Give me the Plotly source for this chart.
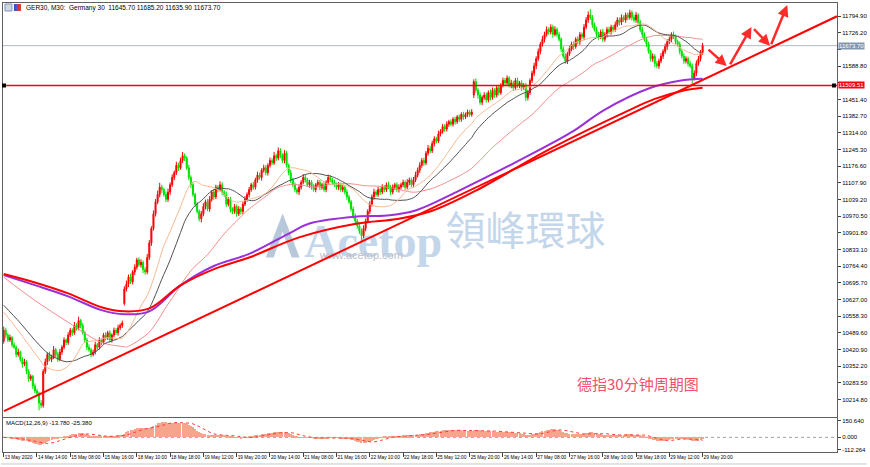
import numpy as np
import plotly.graph_objects as go

# ------------------------------------------------------------------ data
closes = [
    10500,10480,10460,10470,10440,10430,10400,10410,10380,10360,10370,10330,10300,10310,10270,10250,10240,10200,10190,10330,
    10370,10400,10380,10390,10420,10400,10380,10410,10430,10460,10450,10480,10500,10490,10520,10510,10540,10520,10490,10460,
    10430,10420,10400,10410,10440,10430,10460,10450,10480,10470,10490,10460,10480,10500,10490,10510,10520,10530,10670,10690,
    10720,10700,10740,10760,10790,10770,10780,10750,10740,10800,10860,10920,10980,11030,11060,11090,11080,11060,11040,11070,
    11100,11130,11150,11180,11170,11200,11220,11210,11170,11130,11100,11060,11020,10990,10960,10980,11010,11030,11000,11040,
    11070,11050,11090,11080,11100,11070,11060,11020,11040,11000,10990,11010,10980,11000,10990,11020,11040,11060,11080,11100,
    11090,11120,11140,11130,11160,11170,11150,11180,11200,11190,11220,11210,11240,11220,11200,11230,11180,11150,11120,11100,
    11080,11070,11090,11110,11130,11120,11100,11110,11090,11080,11100,11110,11090,11100,11080,11110,11130,11120,11110,11100,
    11090,11100,11080,11090,11070,11050,11030,11000,10970,10950,10930,10910,10890,10920,10950,10990,11020,11050,11070,11060,
    11080,11070,11090,11080,11100,11090,11070,11090,11100,11080,11090,11100,11110,11090,11110,11120,11100,11120,11140,11160,
    11180,11200,11190,11230,11250,11240,11270,11290,11280,11310,11320,11340,11330,11350,11360,11350,11370,11360,11380,11370,
    11390,11380,11390,11400,11390,11400,11525,11490,11470,11440,11460,11470,11450,11480,11460,11490,11470,11500,11480,11510,
    11530,11520,11540,11510,11520,11500,11530,11510,11520,11500,11510,11460,11480,11530,11560,11590,11620,11650,11680,11700,
    11720,11740,11730,11750,11720,11740,11720,11700,11660,11630,11610,11640,11660,11680,11670,11700,11690,11720,11710,11750,
    11780,11800,11790,11760,11740,11720,11710,11730,11700,11720,11740,11730,11750,11740,11760,11780,11770,11790,11780,11800,
    11790,11810,11790,11780,11800,11770,11740,11720,11700,11680,11650,11620,11630,11600,11590,11610,11630,11650,11670,11690,
    11700,11720,11710,11690,11680,11650,11630,11610,11620,11600,11590,11540,11560,11600,11620,11645.7,11673.7,
]
open_overrides = {0: 10455, 58: 10610, 226: 11470}

wick_up = [
    15,10,8,12,6,10,8,14,6,9,12,7,10,8,6,11,9,7,12,10,
    14,8,12,9,15,7,10,13,8,11,6,12,10,8,14,9,16,7,10,8,
    9,12,7,10,13,8,11,6,9,12,8,10,7,11,9,13,8,10,12,15,
    10,14,8,12,9,11,13,7,10,15,12,9,14,11,16,18,10,8,12,14,
    10,13,9,15,11,12,15,10,8,12,9,11,7,10,8,12,14,9,11,13,
    8,12,10,9,14,11,8,12,9,10,7,11,9,12,8,10,13,9,11,8,
    12,9,14,10,8,13,11,9,12,10,15,8,14,11,9,13,10,8,12,9,
    10,8,12,9,14,11,8,10,9,12,7,11,10,8,13,9,12,10,8,11,
    9,12,8,10,7,11,9,8,10,12,9,8,10,13,11,9,12,10,14,8,
    11,9,12,8,10,13,9,11,8,10,12,9,11,8,13,10,9,12,14,11,
    13,10,12,9,14,11,12,10,8,13,9,11,10,12,8,10,9,11,8,10,
    9,11,8,10,9,12,10,14,9,11,8,12,10,9,13,11,8,12,10,9,
    12,10,11,8,13,9,10,12,8,11,9,10,12,9,11,13,10,12,9,14,
    11,13,9,12,10,14,9,11,8,10,12,9,13,10,11,9,12,10,8,13,
    12,15,25,10,9,12,11,10,13,9,11,12,10,9,13,11,10,12,9,11,
    10,12,9,11,13,8,10,12,9,11,10,8,12,9,11,10,13,9,12,10,
    11,9,12,10,8,11,9,12,10,9,11,10,12,13,11,10,11.5,
]
wick_dn = [
    10,12,9,8,11,7,12,9,10,14,8,11,13,9,12,10,8,30,12,9,
    10,13,8,11,9,12,10,8,11,9,12,10,8,13,9,11,10,12,8,10,
    12,9,11,8,10,13,9,11,8,12,10,9,11,8,10,12,9,11,8,10,
    12,9,11,13,10,8,12,14,11,9,10,12,9,11,10,12,13,9,11,10,
    12,9,11,10,13,8,10,12,9,11,14,10,12,9,11,15,10,12,9,11,
    10,12,9,11,8,13,10,12,9,14,11,10,12,9,13,11,8,10,12,9,
    11,10,12,9,13,10,11,12,9,10,8,12,9,11,10,12,9,11,13,10,
    11,9,12,10,8,11,9,12,10,8,11,9,12,10,9,11,8,10,12,9,
    10,12,9,11,10,12,9,11,10,12,11,13,20,10,12,9,11,10,12,9,
    10,12,9,11,10,8,12,9,11,10,12,9,10,11,9,12,10,11,9,10,
    11,10,12,9,10,11,9,12,10,8,11,9,12,10,11,9,10,12,9,11,
    10,12,9,11,10,9,12,11,15,10,12,9,11,10,12,9,11,10,12,9,
    8,13,10,9,12,14,9,10,11,13,8,15,12,9,10,11,13,9,12,10,
    13,9,11,10,14,8,12,10,13,9,11,12,8,10,14,9,11,13,10,12,
    9,12,10,13,8,11,14,9,12,10,13,8,11,12,9,10,13,11,9,12,
    11,9,13,10,12,9,11,14,10,12,9,11,13,15,10,12,9,11,10,13,
    10,12,9,11,10,12,9,11,10,12,9,24,10,12,9,11,9.8,
]

time_labels = ["13 May 2020", "14 May 14:00", "15 May 08:00", "15 May 16:00", "18 May 10:00",
               "18 May 18:00", "19 May 12:00", "19 May 20:00", "20 May 14:00", "21 May 08:00",
               "21 May 16:00", "22 May 10:00", "22 May 18:00", "25 May 12:00", "25 May 20:00",
               "26 May 14:00", "27 May 08:00", "27 May 16:00", "28 May 10:00", "28 May 18:00",
               "29 May 12:00", "29 May 20:00"]
label_step = 16

price_ticks = [11794.90, 11726.20, 11657.50, 11588.80, 11520.10, 11451.40, 11382.70, 11314.00,
               11245.30, 11176.60, 11107.90, 11039.20, 10970.50, 10901.80, 10833.10, 10764.40,
               10695.70, 10627.00, 10558.30, 10489.60, 10420.90, 10352.20, 10283.50, 10214.80]
macd_ticks = [150.64, 0.0, -112.264]
macd_tick_text = ["150.640", "0.000", "-112.264"]

# moving averages: value read off the picture where the window is not yet full
ma20_early_bars, ma20_early = [0, 6, 12, 18], [10575, 10510, 10440, 10370]
ma30_early_bars, ma30_early = [0, 8, 15, 22, 28], [10603, 10530, 10459, 10400, 10375]
ma60_early_bars, ma60_early = [0, 15, 31, 47, 58], [10719, 10623, 10533, 10450, 10432]
slow_purple_bars = [0, 15, 31, 47, 58, 70, 85, 101, 118, 138, 147, 170, 184, 198, 219, 252, 274, 288, 311, 325, 336]
slow_purple = [10728, 10686, 10640, 10583, 10566, 10578, 10685, 10765, 10815, 10903, 10940, 10969, 10973,
               10994, 11076, 11219, 11322, 11405, 11500, 11529, 11537]
slow_red_bars = [0, 15, 31, 47, 58, 70, 85, 102, 118, 142, 170, 190, 206, 227, 262, 300, 313, 326, 336]
slow_red = [10732, 10697, 10652, 10595, 10578, 10590, 10685, 10755, 10800, 10883, 10940, 10960, 10993,
            11076, 11245, 11405, 11454, 11487, 11500]

resistance = 11509.51
last_price = 11673.70
trend_start = (0.14, 10166.7)
trend_end = (400.6, 11794.9)
arrows = [((338.1, 11663), (347.6, 11590)),
          ((348.8, 11590), (359.5, 11751)),
          ((360.0, 11748), (368.4, 11673)),
          ((368.7, 11673), (376.7, 11841))]

title_text = "GER30, M30:  Germany 30  11645.70 11685.20 11635.90 11673.70"
macd_text = "MACD(12,26,9) -13.780 -25.380"
note_text = "德指30分钟周期图"

# ------------------------------------------------------------------ derived
n = len(closes)
assert len(wick_up) == n and len(wick_dn) == n, (n, len(wick_up), len(wick_dn))
bars = list(range(n))
c = np.array(closes, dtype=float)
opens = np.concatenate([[c[0]], c[:-1]])
for k, v in open_overrides.items():
    opens[k] = v
highs = np.maximum(opens, c) + np.array(wick_up)
lows = np.minimum(opens, c) - np.array(wick_dn)


def sma_line(period, early_bars, early_vals):
    xs = list(early_bars)
    ys = list(early_vals)
    for i in range(period - 1, n):
        xs.append(i)
        ys.append(c[i - period + 1:i + 1].mean())
    return xs, ys


def ema(a, p):
    k = 2.0 / (p + 1)
    out = np.empty_like(a)
    out[0] = a[0]
    for i in range(1, len(a)):
        out[i] = a[i] * k + out[i - 1] * (1 - k)
    return out


macd = ema(c, 12) - ema(c, 26)
signal = np.array([macd[max(0, i - 8):i + 1].mean() for i in range(n)])

# ------------------------------------------------------------------ geometry
W, H = 870, 467
ML, MR, MT, MB = 2, 30, 2, 15
PW, PH = W - ML - MR, H - MT - MB


def px_x(px):
    return (px - ML) / PW


def px_y(py):
    return (H - MB - py) / PH


ppx = 4.1148          # price per pixel
ref_price, ref_py = 11794.9, 15.3
main_bottom_py, macd_top_py = 416.7, 418.0
y_top = ref_price + (ref_py - MT) * ppx
y_bot = ref_price - (main_bottom_py - ref_py) * ppx
x_range = [-0.335, 400.6]

FONT = "Liberation Sans, Arial, sans-serif"

# price labels hidden under the two coloured price boxes
covered = {11657.50, 11520.10}
price_tick_text = ["" if v in covered else f"{v:.2f}" for v in price_ticks]

fig = go.Figure()

fig.add_trace(go.Candlestick(
    x=bars, open=opens, high=highs, low=lows, close=c,
    increasing=dict(line=dict(color="#ff0000", width=1), fillcolor="#ff0000"),
    decreasing=dict(line=dict(color="#00e000", width=1), fillcolor="#00e000"),
    whiskerwidth=0, hoverinfo="skip", xaxis="x", yaxis="y", showlegend=False))

for (period, eb, ev, col) in [(60, ma60_early_bars, ma60_early, "#f08c8c"),
                               (30, ma30_early_bars, ma30_early, "#505050"),
                               (20, ma20_early_bars, ma20_early, "#f7b88e")]:
    xs, ys = sma_line(period, eb, ev)
    fig.add_trace(go.Scatter(x=xs, y=ys, mode="lines", line=dict(color=col, width=1, shape="spline"),
                             hoverinfo="skip", showlegend=False, xaxis="x", yaxis="y"))

fig.add_trace(go.Scatter(x=slow_purple_bars, y=slow_purple, mode="lines",
                         line=dict(color="#9b30d9", width=2, shape="spline"),
                         hoverinfo="skip", showlegend=False, xaxis="x", yaxis="y"))
fig.add_trace(go.Scatter(x=slow_red_bars, y=slow_red, mode="lines",
                         line=dict(color="#ff0000", width=2, shape="spline"),
                         hoverinfo="skip", showlegend=False, xaxis="x", yaxis="y"))

# MACD panel
fig.add_trace(go.Bar(x=bars, y=macd, width=0.5, marker=dict(color="#f6a48c", line=dict(width=0)),
                     hoverinfo="skip", showlegend=False, xaxis="x2", yaxis="y2"))
fig.add_trace(go.Scatter(x=bars, y=signal, mode="lines", line=dict(color="#ff3b3b", width=1, dash="dot"),
                         hoverinfo="skip", showlegend=False, xaxis="x2", yaxis="y2"))

shapes = []
# watermark (below traces)
wm_col = "#c3d6ea"
shapes.append(dict(type="rect", xref="paper", yref="paper", layer="below",
                   x0=px_x(302), x1=px_x(446), y0=px_y(262), y1=px_y(210),
                   line=dict(width=0), fillcolor="rgba(0,0,0,0)",
                   label=dict(text="<b>Acetop</b>", textposition="middle center",
                              font=dict(family="Liberation Serif, serif", size=46, color=wm_col))))
shapes.append(dict(type="rect", xref="paper", yref="paper", layer="below",
                   x0=px_x(444), x1=px_x(610), y0=px_y(258), y1=px_y(210),
                   line=dict(width=0), fillcolor="rgba(0,0,0,0)",
                   label=dict(text="領峰環球", textposition="middle center",
                              font=dict(family="Noto Sans CJK TC", size=40, color=wm_col))))
shapes.append(dict(type="rect", xref="paper", yref="paper", layer="below",
                   x0=px_x(308), x1=px_x(416), y0=px_y(261), y1=px_y(246),
                   line=dict(width=0), fillcolor="rgba(0,0,0,0)",
                   label=dict(text="www.acetop.com", textposition="middle center",
                              font=dict(family=FONT, size=11, color="#b9c0c9"))))
logo_pts = [(266, 257), (283, 213), (300, 257), (292, 257), (283, 231), (274, 257)]
logo_path = "M " + " L ".join(f"{px_x(a):.5f},{px_y(b):.5f}" for a, b in logo_pts) + " Z"
shapes.append(dict(type="path", xref="paper", yref="paper", layer="below", path=logo_path,
                   fillcolor="#b7c8da", line=dict(width=0)))

# current price line & resistance & trend line
shapes.append(dict(type="line", xref="paper", yref="y", x0=0, x1=1, y0=last_price, y1=last_price,
                   layer="below", line=dict(color="#b0bac6", width=1)))
shapes.append(dict(type="line", xref="paper", yref="y", x0=0, x1=1, y0=resistance, y1=resistance,
                   line=dict(color="#ff0000", width=1.5)))
for xa, xb in [(1, 5), (835, 839)]:
    shapes.append(dict(type="rect", xref="paper", yref="y", x0=px_x(xa), x1=px_x(xb),
                       y0=resistance - 2 * ppx, y1=resistance + 2 * ppx,
                       fillcolor="#000000", line=dict(width=0)))
shapes.append(dict(type="line", xref="x", yref="y", x0=trend_start[0], y0=trend_start[1],
                   x1=trend_end[0], y1=trend_end[1], line=dict(color="#ff0000", width=2)))
# MACD zero level
shapes.append(dict(type="line", xref="paper", yref="y2", x0=0, x1=1, y0=0, y1=0, layer="below",
                   line=dict(color="#a0a0a0", width=1, dash="dot")))
# title icons
shapes.append(dict(type="rect", xref="paper", yref="paper", x0=px_x(4), x1=px_x(11), y0=px_y(10), y1=px_y(3),
                   fillcolor="#cfd6ea", line=dict(color="#7f93c0", width=1)))
shapes.append(dict(type="rect", xref="paper", yref="paper", x0=px_x(13), x1=px_x(16), y0=px_y(10), y1=px_y(3),
                   fillcolor="#3355cc", line=dict(width=0)))
shapes.append(dict(type="rect", xref="paper", yref="paper", x0=px_x(16), x1=px_x(20), y0=px_y(10), y1=px_y(3),
                   fillcolor="#e03030", line=dict(width=0)))
# bottom strip
shapes.append(dict(type="line", xref="paper", yref="paper", x0=px_x(0), x1=px_x(870), y0=px_y(464), y1=px_y(464),
                   line=dict(color="#c8c8c8", width=1)))

annotations = []
for (tail, head) in arrows:
    annotations.append(dict(x=head[0], y=head[1], ax=tail[0], ay=tail[1], xref="x", yref="y",
                            axref="x", ayref="y", text="", showarrow=True, arrowhead=2,
                            arrowsize=0.9, arrowwidth=2.5, arrowcolor="#ff2a2a", standoff=0))
annotations.append(dict(x=px_x(23), y=px_y(7), xref="paper", yref="paper", text=title_text,
                        showarrow=False, xanchor="left", yanchor="middle",
                        font=dict(family=FONT, size=6.5, color="#000000")))
annotations.append(dict(x=px_x(3), y=px_y(423), xref="paper", yref="paper", text=macd_text,
                        showarrow=False, xanchor="left", yanchor="middle",
                        font=dict(family=FONT, size=6, color="#000000")))
annotations.append(dict(x=px_x(577), y=px_y(383), xref="paper", yref="paper", text=note_text,
                        showarrow=False, xanchor="left", yanchor="middle",
                        font=dict(family="Noto Sans CJK SC", size=15, color="#f0506a")))
for val, bg in [(last_price, "#8496ae"), (resistance, "#ff0000")]:
    annotations.append(dict(x=px_x(841), y=val, xref="paper", yref="y", text=f"{val:.2f}",
                            showarrow=False, xanchor="left", yanchor="middle", bgcolor=bg,
                            borderpad=0, font=dict(family=FONT, size=6, color="#ffffff")))

axis_line = "#606060"
fig.update_layout(
    width=W, height=H, margin=dict(l=ML, r=MR, t=MT, b=MB),
    paper_bgcolor="#ffffff", plot_bgcolor="#ffffff", showlegend=False, bargap=0,
    xaxis=dict(domain=[0, 1], range=x_range, anchor="y", showticklabels=False, showgrid=False,
               zeroline=False, showline=True, mirror=True, linecolor=axis_line, linewidth=1,
               rangeslider=dict(visible=False), fixedrange=True),
    yaxis=dict(domain=[px_y(main_bottom_py), 1], range=[y_bot, y_top], side="right",
               tickvals=price_ticks, ticktext=price_tick_text,
               ticks="outside", ticklen=3, tickcolor="#404040",
               tickfont=dict(family=FONT, size=6, color="#000000"),
               showgrid=False, zeroline=False, showline=True, mirror=True,
               linecolor=axis_line, linewidth=1),
    xaxis2=dict(domain=[0, 1], range=x_range, anchor="y2", matches="x",
                tickvals=[i * label_step for i in range(len(time_labels))], ticktext=time_labels,
                ticks="outside", ticklen=4, tickcolor="#404040", ticklabelposition="outside right",
                tickangle=0, tickfont=dict(family=FONT, size=4.8, color="#000000"),
                showgrid=False, zeroline=False, showline=True, mirror=True,
                linecolor=axis_line, linewidth=1, rangeslider=dict(visible=False)),
    yaxis2=dict(domain=[0, px_y(macd_top_py)], range=[-132, 174], side="right",
                tickvals=macd_ticks, ticktext=macd_tick_text,
                ticks="outside", ticklen=3, tickcolor="#404040",
                tickfont=dict(family=FONT, size=6, color="#000000"),
                showgrid=False, zeroline=False, showline=True, mirror=True,
                linecolor=axis_line, linewidth=1),
    shapes=shapes, annotations=annotations,
)

fig.write_html("out.html", config={"displayModeBar": False})
